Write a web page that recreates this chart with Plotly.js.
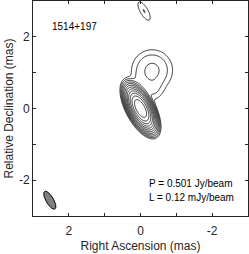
<!DOCTYPE html>
<html>
<head>
<meta charset="utf-8">
<script src="https://cdn.plot.ly/plotly-3.0.1.min.js"></script>
<style>html,body{margin:0;padding:0;background:#fff;}#plot{width:249px;height:254px;}</style>
</head>
<body>
<div id="plot"></div>
<script>
// Source components (RA mas, Dec mas, peak mJy/beam, FWHM major/minor mas, PA deg)
const compRA    = [0.0, -0.325, -0.33, 0.05, -0.10];
const compDec   = [0.0,  1.07,   0.52,  0.75,  2.72];
const compPeak  = [501,  0.57,   0.20,  0.10,  0.245];
const compMaj   = [0.54, 0.76,   0.50,  0.40,  0.57];
const compMin   = [0.24, 0.76,   0.45,  0.30,  0.21];
const compPA    = [28,   0,      20,    0,     30];

// Restoring beam
const beamRA = 2.53, beamDec = -2.56, beamMaj = 0.57, beamMin = 0.21, beamPA = 30;

// Contour levels: L * 2^n
const lowestLevel = 0.12;   // mJy/beam
const nLevels = 12;

const tickVals = [-3, -2, -1, 0, 1, 2, 3];
const tickText = ['', '-2', '', '0', '', '2', ''];

const labelSource = '1514+197';
const labelPeak = 'P = 0.501 Jy/beam';
const labelLowest = 'L = 0.12 mJy/beam';

// grid
const step = 0.02;
const gx = [], gy = [];
for (let i = 0; i <= 300; i++) { gx.push(-3 + i * step); gy.push(-3 + i * step); }
const k = 4 * Math.LN2;
const z = gy.map(y => gx.map(x => {
  let s = 0;
  for (let c = 0; c < compRA.length; c++) {
    const pa = compPA[c] * Math.PI / 180;
    const dx = x - compRA[c], dy = y - compDec[c];
    const u = dx * Math.sin(pa) + dy * Math.cos(pa);
    const v = dx * Math.cos(pa) - dy * Math.sin(pa);
    s += compPeak[c] * Math.exp(-k * (u * u / (compMaj[c] * compMaj[c]) + v * v / (compMin[c] * compMin[c])));
  }
  return Math.max(Math.log2(s / lowestLevel), -2);
}));

// beam ellipse
const bx = [], by = [];
const bpa = beamPA * Math.PI / 180;
for (let t = 0; t <= 72; t++) {
  const a = t / 72 * 2 * Math.PI;
  const u = beamMaj / 2 * Math.cos(a), v = beamMin / 2 * Math.sin(a);
  bx.push(beamRA + u * Math.sin(bpa) + v * Math.cos(bpa));
  by.push(beamDec + u * Math.cos(bpa) - v * Math.sin(bpa));
}

const font = 'Liberation Sans, Arial, Helvetica, sans-serif';
const txt = '#262626';

const data = [
  {
    type: 'contour', x: gx, y: gy, z: z,
    autocontour: false,
    contours: {start: 0, end: nLevels - 1, size: 1, coloring: 'lines'},
    colorscale: [[0, '#000'], [1, '#000']],
    showscale: false,
    line: {width: 0.8, smoothing: 1},
    hoverinfo: 'skip'
  },
  {
    type: 'scatter', x: bx, y: by, mode: 'lines', fill: 'toself',
    fillcolor: '#808080', line: {color: '#000', width: 1}, hoverinfo: 'skip'
  }
];

const axisCommon = {
  tickvals: tickVals, ticktext: tickText,
  ticks: 'inside', ticklen: 3, tickwidth: 1, tickcolor: txt,
  showline: true, linecolor: txt, linewidth: 1, mirror: 'ticks',
  showgrid: false, zeroline: false,
  tickfont: {family: font, size: 12, color: txt},
  fixedrange: true
};

const layout = {
  width: 249, height: 254,
  margin: {l: 33, r: 1, t: 1, b: 38},
  paper_bgcolor: '#fff', plot_bgcolor: '#fff',
  showlegend: false,
  xaxis: Object.assign({}, axisCommon, {
    range: [3, -3],
    ticklabelstandoff: 4,
    title: {text: 'Right Ascension (mas)', font: {family: font, size: 12, color: txt}, standoff: 4}
  }),
  yaxis: Object.assign({}, axisCommon, {
    range: [-3, 3],
    title: {text: 'Relative Declination (mas)', font: {family: font, size: 12, color: txt}, standoff: 2}
  }),
  annotations: [
    {x: 2.53, y: 2.3, xref: 'x', yref: 'y', text: labelSource, showarrow: false, xanchor: 'left', yanchor: 'middle', font: {family: font, size: 10, color: '#000'}},
    {x: -0.19, y: -2.09, xref: 'x', yref: 'y', text: labelPeak, showarrow: false, xanchor: 'left', yanchor: 'middle', font: {family: font, size: 10, color: '#000'}},
    {x: -0.19, y: -2.49, xref: 'x', yref: 'y', text: labelLowest, showarrow: false, xanchor: 'left', yanchor: 'middle', font: {family: font, size: 10, color: '#000'}}
  ]
};

Plotly.newPlot('plot', data, layout, {staticPlot: true, displayModeBar: false});
</script>
</body>
</html>
